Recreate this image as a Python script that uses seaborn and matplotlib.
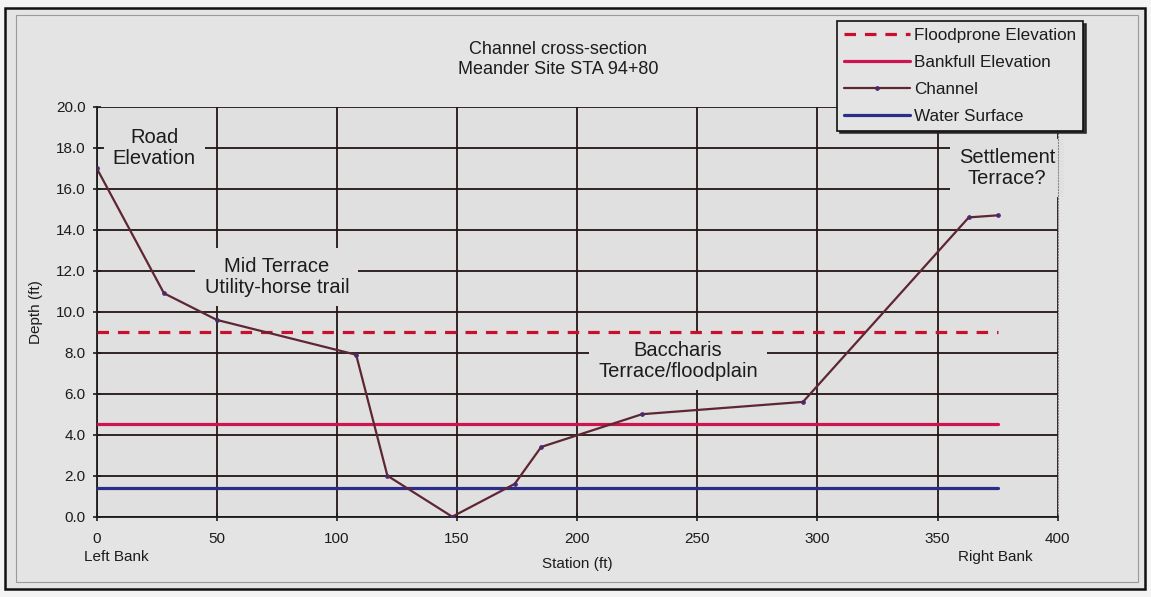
"""
Channel cross-section, Meander Site STA 94+80.
"""

import matplotlib
matplotlib.use("Agg")
import matplotlib.pyplot as plt
from matplotlib.patches import Rectangle
from matplotlib.ticker import MultipleLocator, FormatStrFormatter
import seaborn as sns

# surveyed channel profile
station = [0, 28, 50, 108, 121, 148, 174, 185, 227, 294, 363, 375]
depth = [17.0, 10.9, 9.6, 7.9, 2.0, 0.0, 1.6, 3.4, 5.0, 5.6, 14.6, 14.7]

# reference elevations, drawn across the section
line_station = [0, 375]
floodprone = [9.0, 9.0]
bankfull = [4.5, 4.5]
water_surface = [1.4, 1.4]

labels = ["Floodprone Elevation", "Bankfull Elevation", "Channel", "Water Surface"]

notes = {
    "Road\nElevation": (24, 18.0),
    "Mid Terrace\nUtility-horse trail": (75, 11.7),
    "Baccharis\nTerrace/floodplain": (242, 7.6),
    "Settlement\nTerrace?": (379, 17.0),
}

BG = "#e4e4e4"
AX_BG = "#e0e0e0"
INK = "#1c1c1c"

sns.set_theme(style="white")
plt.rcParams["font.family"] = ["Liberation Sans", "DejaVu Sans"]

fig = plt.figure(figsize=(11.51, 5.97), dpi=100, facecolor="#f4f4f4")
fig.add_artist(Rectangle((0.0043, 0.0134), 0.9905, 0.9732, transform=fig.transFigure,
                         facecolor=BG, edgecolor="none", zorder=-5))
fig.add_artist(Rectangle((0.0043, 0.0134), 0.9905, 0.9732, transform=fig.transFigure,
                         facecolor="none", edgecolor="#111111", lw=1.8, zorder=5))
fig.add_artist(Rectangle((0.0139, 0.0251), 0.9748, 0.9497, transform=fig.transFigure,
                         facecolor="none", edgecolor="#9a9a9a", lw=0.8, zorder=5))

ax = fig.add_axes([0.0840, 0.1345, 0.8349, 0.6868])
ax.set_facecolor(AX_BG)

sns.lineplot(x=line_station, y=floodprone, ax=ax, color="#c8102e", lw=2.3,
             linestyle=(0, (3.6, 2.8)), label=labels[0], zorder=4)
sns.lineplot(x=line_station, y=bankfull, ax=ax, color="#cc1450", lw=2.3,
             label=labels[1], zorder=4)
sns.lineplot(x=station, y=depth, ax=ax, color="#5e2633", lw=1.6, marker="o",
             markersize=2.6, markerfacecolor="#4a2a6a", markeredgecolor="#4a2a6a",
             label=labels[2], zorder=5)
sns.lineplot(x=line_station, y=water_surface, ax=ax, color="#2b2e88", lw=2.3,
             label=labels[3], zorder=4)

ax.set_xlim(0, 400)
ax.set_ylim(0, 20)
ax.xaxis.set_major_locator(MultipleLocator(50))
ax.yaxis.set_major_locator(MultipleLocator(2))
ax.yaxis.set_major_formatter(FormatStrFormatter("%.1f"))
ax.set_axisbelow(True)
ax.grid(True, color="#231515", lw=1.3)

for side in ["left", "bottom"]:
    ax.spines[side].set_color(INK)
    ax.spines[side].set_linewidth(1.3)
ax.spines["top"].set_visible(False)
ax.spines["right"].set_color("#8a8a8a")
ax.spines["right"].set_linewidth(0.8)
ax.spines["right"].set_linestyle(":")

ax.tick_params(axis="both", direction="inout", length=6, width=1.2, colors=INK,
               labelsize=11, bottom=True, left=True)
ax.tick_params(axis="x", pad=8)
ax.tick_params(axis="y", pad=5)

ax.set_xlabel("Station (ft)", fontsize=11, color=INK, labelpad=8)
ax.set_ylabel("Depth (ft)", fontsize=11, color=INK, labelpad=9)

for txt, (sx, dy) in notes.items():
    ax.text(sx, dy, txt, ha="center", va="center", fontsize=14.5, color=INK,
            linespacing=1.15, zorder=2.5, clip_on=False,
            bbox=dict(boxstyle="square,pad=0.45", fc=AX_BG, ec="none"))

bank_tf = ax.get_xaxis_transform()
ax.text(8, -0.098, "Left Bank", transform=bank_tf, ha="center", va="center",
        fontsize=11, color=INK)
ax.text(374, -0.098, "Right Bank", transform=bank_tf, ha="center", va="center",
        fontsize=11, color=INK)

fig.text(0.4848, 1 - 49 / 597, "Channel cross-section", ha="center", va="center",
         fontsize=13, color=INK)
fig.text(0.4848, 1 - 70 / 597, "Meander Site STA 94+80", ha="center", va="center",
         fontsize=13, color=INK)

handles, _ = ax.get_legend_handles_labels()
ax.get_legend().remove()
leg = fig.legend(handles, labels, loc="upper left", bbox_to_anchor=(0.7272, 0.9648),
                 fontsize=12.3, handlelength=3.9, handletextpad=0.2, labelspacing=0.7,
                 borderpad=0.4, borderaxespad=0, fancybox=False, framealpha=1,
                 facecolor=BG, edgecolor="#111111", shadow={"color": "#222222", "alpha": 0.9})
leg.get_frame().set_linewidth(1.2)
for t in leg.get_texts():
    t.set_color(INK)

fig.savefig("out.png", dpi=100, facecolor=fig.get_facecolor())
